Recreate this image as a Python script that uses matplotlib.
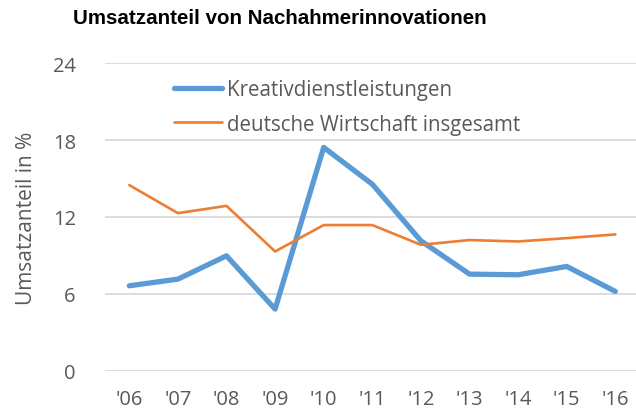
import matplotlib
matplotlib.use("Agg")
import matplotlib.pyplot as plt

years = ["'06", "'07", "'08", "'09", "'10", "'11", "'12", "'13", "'14", "'15", "'16"]
kreativ = [6.63, 7.15, 8.97, 4.81, 17.43, 14.56, 10.14, 7.54, 7.49, 8.14, 6.19]
deutsch = [14.49, 12.3, 12.87, 9.31, 11.37, 11.37, 9.83, 10.2, 10.09, 10.35, 10.64]
yticks = [0, 6, 12, 18, 24]

W, H = 636, 414
fig = plt.figure(figsize=(W/100, H/100), dpi=100)
left, right = 105, 639.6
bottom, top = 414-371.7, 414-64.3
ax = fig.add_axes([left/W, bottom/H, (right-left)/W, (top-bottom)/H])

x = list(range(len(years)))
ax.plot(x, kreativ, color="#5B9BD5", lw=3.8, solid_capstyle="round", solid_joinstyle="round",
        label="Kreativdienstleistungen", zorder=3)
ax.plot(x, deutsch, color="#ED7D31", lw=1.9, solid_capstyle="round", solid_joinstyle="round",
        label="deutsche Wirtschaft insgesamt", zorder=3)

ax.set_xlim(-0.5, len(years)-0.5)
ax.set_ylim(0, 24)
ax.set_yticks(yticks)
ax.set_xticks(x)
ax.set_xticklabels(years)
ax.grid(axis="y", color="#D9D9D9", lw=1.3)
ax.set_axisbelow(True)
for s in ax.spines.values():
    s.set_visible(False)
ax.tick_params(length=0, labelsize=14.5, labelcolor="#595959")
ax.tick_params(axis="y", pad=21)
ax.tick_params(axis="x", pad=13)
for lab in ax.get_xticklabels() + ax.get_yticklabels():
    lab.set_family("Open Sans")
ax.set_ylabel("Umsatzanteil in %", fontsize=15, color="#595959", family="Open Sans", labelpad=11)

leg = ax.legend(loc="upper left", bbox_to_anchor=((166-left)/(right-left), (414-72-bottom)/(top-bottom)),
                frameon=False, handlelength=2.3, handletextpad=0.25, labelspacing=0.65,
                prop={"family": "Open Sans", "size": 14.8}, borderaxespad=0)
for t in leg.get_texts():
    t.set_color("#595959")

fig.text(280/W, 1-18/H, "Umsatzanteil von Nachahmerinnovationen", ha="center", va="center",
         fontsize=14.8, fontweight="bold", family="Liberation Sans", color="black")

fig.savefig("out.png", dpi=100)
